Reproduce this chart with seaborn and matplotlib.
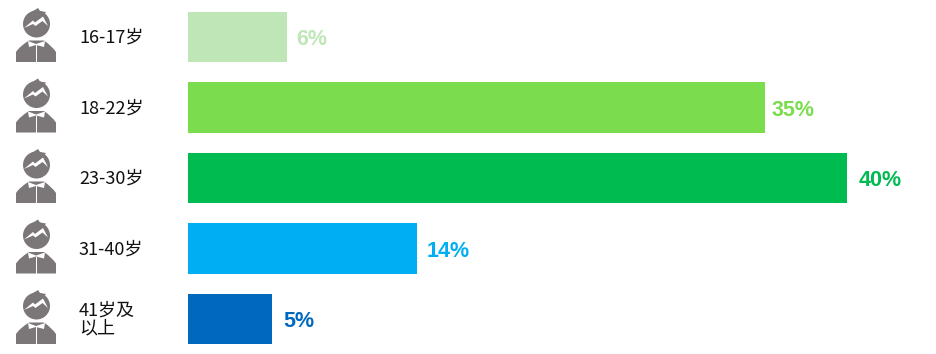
import matplotlib
matplotlib.use("Agg")
import matplotlib.pyplot as plt
import seaborn as sns
import pandas as pd
from matplotlib.patches import Circle, Polygon, Rectangle, PathPatch
from matplotlib.path import Path

ages = ["16-17岁", "18-22岁", "23-30岁", "31-40岁", "41岁及\n以上"]
shares = [6, 35, 40, 14, 5]
# bar lengths as drawn in the picture, slightly off the printed labels
bar_lengths = [6, 35, 40, 13.9, 5.1]
label_gap = [6.5, 5, 8, 7, 8]
colors = ["#BFE6B7", "#7BDC4D", "#00BB50", "#00AEF3", "#0069BF"]
grey = "#7B7677"

sns.set_theme(style="white")
plt.rcParams["font.family"] = ["Noto Sans CJK SC", "DejaVu Sans"]

W, H = 937, 354
fig = plt.figure(figsize=(W / 100, H / 100), dpi=100)

# axes placed so that one percent is about 16.48 px wide
left = 188
ax = fig.add_axes([left / W, 0, (W - left) / W, 1])
df = pd.DataFrame({"age": ages, "share": bar_lengths})
sns.barplot(data=df, x="share", y="age", hue="age", palette=colors, legend=False,
            width=0.71, saturation=1, linewidth=0, ax=ax)
ax.set_xlim(0, (W - left) / 16.48)
ax.set_ylim((H - 37) / 70.5, -37 / 70.5)
ax.axis("off")

for i, (v, c) in enumerate(zip(shares, colors)):
    ax.annotate(f"{v}%", (bar_lengths[i], i), xytext=(label_gap[i], -2), textcoords="offset points", color=c,
                va="center", ha="left", fontsize=15.5, fontweight="bold",
                family="Liberation Sans")
    ax.annotate(ages[i], (0, i), xytext=(-78.5, -0.5), textcoords="offset points", color="#111111",
                va="center", ha="left", fontsize=13, linespacing=1.0, annotation_clip=False)

# person icons, pixel coordinates
over = fig.add_axes([0, 0, 1, 1], zorder=5)
over.set_xlim(0, W)
over.set_ylim(H, 0)
over.axis("off")


def person(cy):
    t = cy - 37
    body = Path([(16, 62), (16, 52), (20, 46), (29, 40.5), (44, 40.5), (52, 46), (56, 52), (56, 62), (16, 62)],
                [Path.MOVETO, Path.LINETO, Path.CURVE3, Path.CURVE3, Path.LINETO, Path.CURVE3, Path.CURVE3,
                 Path.LINETO, Path.CLOSEPOLY])
    body = Path(body.vertices + [0, t], body.codes)
    over.add_patch(PathPatch(body, fc=grey, ec="none"))
    over.add_patch(Polygon([(28, 41 + t), (36, 44 + t), (45, 41 + t), (44, 47 + t), (36, 45 + t), (29, 47 + t)],
                           fc="white", ec="none"))
    over.add_patch(Rectangle((35.7, 45 + t), 0.9, 17, fc="white", ec="none"))
    over.add_patch(Circle((36.5, 24 + t), 13.5, fc=grey, ec="none"))
    over.add_patch(Polygon([(30, 13 + t), (38, 8 + t), (40, 11 + t), (46, 12 + t), (43, 16 + t), (36, 16 + t)],
                           fc=grey, ec="none"))
    over.add_patch(Polygon([(24, 28 + t), (33, 20.5 + t), (35, 22.5 + t), (43, 16.5 + t), (48, 26 + t), (42.5, 21 + t),
                            (35.5, 26 + t), (33, 24 + t)], fc="white", ec="none"))


for i in range(len(ages)):
    person(37 + 70.5 * i)

fig.savefig("out.png", dpi=100)
